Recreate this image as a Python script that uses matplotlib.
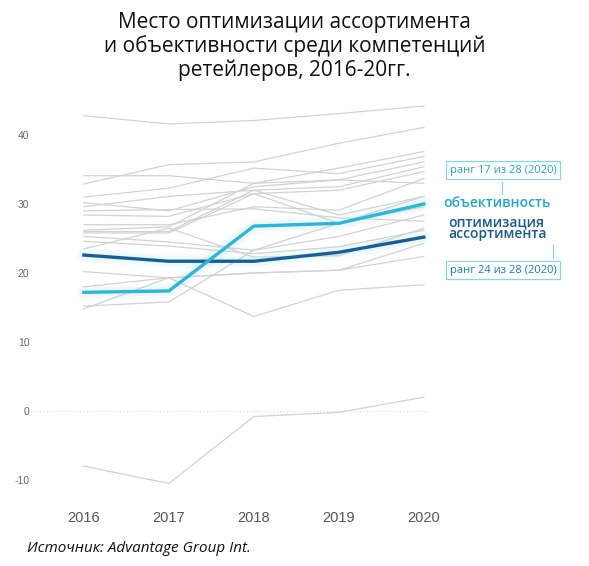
import matplotlib.pyplot as plt

years = [2016, 2017, 2018, 2019, 2020]

# other competences (grey)
others = [
    [42.8, 41.6, 42.1, 43.1, 44.2],
    [32.9, 35.7, 36.1, 38.8, 41.1],
    [34.1, 34.1, 33.0, 35.2, 37.6],
    [31.0, 32.3, 35.2, 34.4, 36.9],
    [30.2, 29.0, 32.5, 33.5, 36.1],
    [29.6, 31.1, 32.0, 32.5, 35.4],
    [28.4, 28.2, 31.5, 32.0, 34.7],
    [27.0, 27.0, 29.6, 29.1, 33.7],
    [26.2, 26.7, 33.0, 33.5, 33.0],
    [26.0, 26.0, 32.0, 28.4, 31.1],
    [25.8, 25.8, 31.5, 27.2, 29.6],
    [25.3, 24.5, 23.3, 25.3, 28.4],
    [24.6, 23.9, 22.8, 23.8, 26.2],
    [29.0, 29.2, 29.3, 28.0, 27.5],
    [23.5, 26.5, 22.3, 22.5, 26.5],
    [20.2, 19.3, 20.0, 20.4, 24.3],
    [18.0, 19.3, 13.7, 17.5, 18.3],
    [15.2, 15.8, 23.3, 27.2, 31.1],
    [14.8, 19.3, 20.0, 20.4, 22.4],
    [-8.0, -10.5, -0.8, -0.2, 2.0],
]

objectivity = [17.2, 17.4, 26.8, 27.2, 30.0]
assortment = [22.6, 21.7, 21.7, 23.0, 25.2]

title = "Место оптимизации ассортимента\nи объективности среди компетенций\nретейлеров, 2016-20гг."
yticks = [-10, 0, 10, 20, 30, 40]

c_obj = "#35b3cf"
c_ass = "#1d5e8e"
c_grey = "#d2d2d2"

fig = plt.figure(figsize=(5.89, 5.66), dpi=100)
ax = fig.add_axes([0.102, 0.1166, 0.645, 0.7067])

for s in others:
    ax.plot(years, s, color=c_grey, lw=0.9, zorder=1)

ax.axhline(0, xmin=-0.07, xmax=0.97, color="#d8d8d8", lw=0.8, ls=(0, (1, 2)), clip_on=False, zorder=0)

# glow
for lw, a in [(10, 0.10), (6.5, 0.15)]:
    ax.plot(years, objectivity, color="#9fe6f5", lw=lw, alpha=a, solid_capstyle="round", zorder=2)
    ax.plot(years, assortment, color="#9fe6f5", lw=lw, alpha=a, solid_capstyle="round", zorder=2)
ax.plot(years, assortment, color=c_ass, lw=2.4, zorder=3)
ax.plot(years, objectivity, color=c_obj, lw=2.4, zorder=4)

ax.set_xlim(2015.72, 2020.19)
ax.set_ylim(-12.9, 45.07)
ax.set_xticks(years)
ax.set_xticklabels([str(y) for y in years], family="Liberation Sans", fontsize=10.5, color="#555555")
ax.set_yticks(yticks)
ax.set_yticklabels([str(t) for t in yticks], family="Liberation Sans", fontsize=7.5, color="#666666")
ax.tick_params(axis="both", length=0)
ax.tick_params(axis="y", pad=22)
ax.tick_params(axis="x", pad=8)
for sp in ax.spines.values():
    sp.set_visible(False)

fig.text(0.5, 0.978, title, ha="center", va="top", fontsize=15, family="Open Sans",
         linespacing=1.12, color="#111111")

# annotations
box_kw = dict(boxstyle="square,pad=0.35", fc="white", ec="#8fd3e2", lw=0.9)
fig.text(503 / 589, 1 - 170 / 566, "ранг 17 из 28 (2020)", ha="center", va="center",
         fontsize=8, family="Open Sans", color="#2a9fbb", bbox=box_kw)
fig.add_artist(plt.Line2D([502 / 589, 502 / 589], [1 - 182 / 566, 1 - 194 / 566],
                          color="#8fd3e2", lw=0.9))
fig.text(443 / 589, 1 - 203 / 566, "объективность", ha="left", va="center",
         fontsize=10, family="Open Sans", weight="semibold", color="#2aa5c3")
fig.text(448 / 589, 1 - 228 / 566, "оптимизация\nассортимента", ha="left", va="center",
         fontsize=10, family="Open Sans", weight="semibold", color="#1d5a85", linespacing=0.85)
fig.add_artist(plt.Line2D([553 / 589, 553 / 589], [1 - 245 / 566, 1 - 258 / 566],
                          color="#8fd3e2", lw=0.9))
fig.text(503 / 589, 1 - 270 / 566, "ранг 24 из 28 (2020)", ha="center", va="center",
         fontsize=8, family="Open Sans", color="#1f7ea5", bbox=box_kw)

fig.text(27 / 589, 1 - 548 / 566, "Источник: Advantage Group Int.", ha="left", va="center",
         fontsize=11, family="Open Sans", style="italic", color="#111111")

fig.savefig("out.png", dpi=100, facecolor="white")
